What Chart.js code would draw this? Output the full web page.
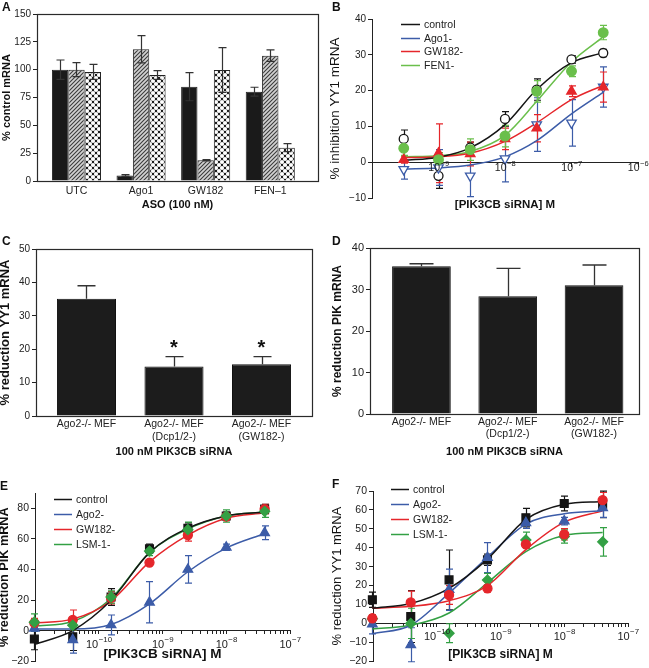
<!DOCTYPE html>
<html><head><meta charset="utf-8">
<script src="https://cdn.jsdelivr.net/npm/chart.js@4.4.1/dist/chart.umd.min.js"></script>
<style>
html,body{margin:0;padding:0;background:#fff}
body{width:649px;height:668px;position:relative;overflow:hidden}
canvas{position:absolute;display:block}
.letter{position:absolute;font:bold 12px "Liberation Sans",Arial,sans-serif;line-height:12px;color:#111}
</style></head><body>
<canvas id="cA" width="325" height="220" style="left:0;top:0"></canvas>
<canvas id="cB" width="324" height="220" style="left:325px;top:0"></canvas>
<canvas id="cC" width="325" height="240" style="left:0;top:220px"></canvas>
<canvas id="cD" width="324" height="240" style="left:325px;top:220px"></canvas>
<canvas id="cE" width="325" height="208" style="left:0;top:460px"></canvas>
<canvas id="cF" width="324" height="208" style="left:325px;top:460px"></canvas>
<div class="letter" style="left:2px;top:1px">A</div>
<div class="letter" style="left:332px;top:1px">B</div>
<div class="letter" style="left:2px;top:235px">C</div>
<div class="letter" style="left:332px;top:235px">D</div>
<div class="letter" style="left:0px;top:480px">E</div>
<div class="letter" style="left:332px;top:478px">F</div>
<script>
// ================= DATA =================
// Panel A
const aCategories = ['UTC', 'Ago1', 'GW182', 'FEN–1'];
const aSeriesNames = ['Ago1 mRNA', 'GW182 mRNA', 'FEN-1 mRNA'];
const aAgo1 = [100, 5, 84.7, 80.2];
const aAgo1Err = [8.7, 0.8, 12.6, 4];
const aGw182 = [100, 118.3, 18.6, 112.6];
const aGw182Err = [6.3, 12.2, 0.6, 5.1];
const aFen1 = [98, 95.2, 99.7, 29.9];
const aFen1Err = [6.8, 3.9, 20.1, 3.6];

// Panel B
const bConc = [3e-10, 1e-9, 3e-9, 1e-8, 3e-8, 1e-7, 3e-7];
const bNames = ['control', 'Ago1-', 'GW182-', 'FEN1-'];
const bControl = [6.5, -3.8, 4.1, 12.1, 20.3, 28.7, 30.5];
const bControlErr = [2.5, 3.5, 1.5, 2, 3, 1, 1];
const bAgo1 = [-2, -1.5, -3.8, 1, 10.5, 11, 21];
const bAgo1Err = [2.7, 5, 5.8, 6.5, 7.5, 6.5, 5.6];
const bGw182 = [0.7, 2.5, 2.3, 6.5, 9.5, 19.8, 21];
const bGw182Err = [1, 8.2, 3.3, 3, 3.8, 1.5, 4.2];
const bFen1 = [3.9, 0.7, 3.5, 7.3, 19.8, 25.4, 36.2];
const bFen1Err = [2, 2, 3, 3, 3, 1.5, 2];
const bFitControl = [0.5, 1.4, 4, 10.5, 20.3, 27.8, 30.6];
const bFitAgo1 = [-1.9, -1.6, -0.8, 1.5, 6, 13.5, 19.5];
const bFitGw182 = [1.3, 1.5, 2.5, 5.8, 11, 17.5, 21.5];
const bFitFen1 = [1.5, 1.8, 3, 7.5, 17, 28, 35];
const bXTicks = [1e-10, 1e-9, 1e-8, 1e-7, 1e-6];
const bXTickExponents = ['', '−9', '−8', '−7', '−6'];

// Panels C and D
const cdCategories = [['Ago2-/- MEF'], ['Ago2-/- MEF', '(Dcp1/2-)'], ['Ago2-/- MEF', '(GW182-)']];
const cValues = [35.1, 14.8, 15.5];
const cErr = [3.9, 3.0, 2.3];
const cMarks = ['', '*', '*'];
const dValues = [35.6, 28.4, 31];
const dErr = [0.6, 6.7, 4.9];

// Panels E and F
const efConc = [9.77e-12, 3.91e-11, 1.56e-10, 6.25e-10, 2.5e-9, 1e-8, 4e-8];
const efNames = ['control', 'Ago2-', 'GW182-', 'LSM-1-'];
const efXDecades = [1e-11, 1e-10, 1e-9, 1e-8, 1e-7];
const efXDecadeExponents = ['', '−10', '−9', '−8', '−7'];
const efMinorSteps = [2, 3, 4, 5, 6, 7, 8, 9];

const eControl = [-5.5, -4, 22, 53.5, 67, 75, 79.5];
const eControlErr = [7, 9, 5.5, 3, 3.5, 2.5, 3];
const eAgo2 = [1.5, -6, 3.7, 18.5, 40, 54.5, 64];
const eAgo2Err = [2, 8.7, 6.5, 13.5, 9, 2, 4.5];
const eGw182 = [5, 7, 21.5, 44.5, 62.5, 74.5, 79.5];
const eGw182Err = [3, 6.5, 4, 2, 4, 2, 3];
const eLsm1 = [5.5, 3.5, 22, 52, 66, 75, 78];
const eLsm1Err = [5.5, 3, 4, 3, 5, 4, 4];
const eFitControl = [-9, 0, 19.8, 51, 67, 75, 77.5];
const eFitAgo2 = [1, 1, 4, 17.5, 38.5, 54, 63.5];
const eFitGw182 = [5, 7.5, 19.5, 45, 62.5, 73.5, 77];
const eFitLsm1 = [3, 6, 21, 51, 66.5, 75, 77.5];

const fControl = [12.5, 3.6, 23, 33.6, 55.9, 63.4, 62.9];
const fControlErr = [4, 13.7, 15.8, 3, 4.9, 3.9, 7];
const fAgo2 = [-0.4, -11.3, 17.8, 34.8, 53.2, 54.1, 61.1];
const fAgo2Err = [5.1, 9, 10.9, 7.9, 3, 2, 5];
const fGw182 = [2.7, 11.1, 15, 18.5, 41.8, 47.1, 65.2];
const fGw182Err = [2, 6, 5, 2, 2, 3, 4];
const fLsm1 = [2.4, 0, -5.2, 22.9, 44.1, 45.9, 43.1];
const fLsm1Err = [2, 8, 5, 3.5, 4.2, 3.5, 7.5];
const fFitControl = [8, 10.5, 18.5, 34, 55, 63, 64.5];
const fFitAgo2 = [-5.5, -1, 16, 35, 52.5, 58, 59.5];
const fFitGw182 = [8, 9, 12, 20, 39, 53.5, 59.5];
const fFitLsm1 = [-3, -1, 5.5, 21.5, 38, 46.5, 48];

// ================= STYLE =================
const FAMILY = '"Liberation Sans", Arial, Helvetica, sans-serif';
Chart.defaults.font.family = FAMILY;
Chart.defaults.color = '#222';
Chart.defaults.animation = false;
Chart.defaults.responsive = false;
Chart.defaults.plugins.legend.display = false;
Chart.defaults.plugins.tooltip.enabled = false;

const colBlack = '#151515', colBlue = '#3c5ca8', colRed = '#e5262b', colGreenB = '#6abf4b', colGreenEF = '#33a044';
const F = (size, weight) => ({ size, weight: weight || 'normal', family: FAMILY });

function hatchPattern() {
  const c = document.createElement('canvas'); c.width = 4; c.height = 4;
  const g = c.getContext('2d');
  g.fillStyle = '#d2d2d2'; g.fillRect(0, 0, 4, 4);
  g.strokeStyle = '#3c3c3c'; g.lineWidth = 1.1;
  g.beginPath();
  g.moveTo(-1, 5); g.lineTo(5, -1);
  g.moveTo(-1, 1); g.lineTo(1, -1);
  g.moveTo(3, 5); g.lineTo(5, 3);
  g.stroke();
  return g.createPattern(c, 'repeat');
}
function checkerPattern() {
  const c = document.createElement('canvas'); c.width = 6; c.height = 6;
  const g = c.getContext('2d');
  g.fillStyle = '#1a1a1a'; g.fillRect(0, 0, 6, 6);
  g.fillStyle = '#fff';
  [[0,0],[6,0],[0,6],[6,6],[3,3]].forEach(([x, y]) => { g.beginPath(); g.arc(x, y, 2.1, 0, 2 * Math.PI); g.fill(); });
  return g.createPattern(c, 'repeat');
}

// ================= PLUGINS =================
function drawErrors(chart, o) {
  const ctx = chart.ctx, ys = chart.scales.y;
  chart.data.datasets.forEach((ds, i) => {
    if (!ds.errors) return;
    const meta = chart.getDatasetMeta(i);
    ctx.save();
    ctx.strokeStyle = o.color || ds.borderColor;
    ctx.lineWidth = o.lineWidth || 1.2;
    meta.data.forEach((el, j) => {
      const raw = ds.data[j]; const v = (typeof raw === 'object') ? raw.y : raw; const e = ds.errors[j];
      if (e == null) return;
      const x = Math.round(el.x) + 0.5;
      const yt = ys.getPixelForValue(v + e);
      const yb = ys.getPixelForValue(o.upperOnly ? v : v - e);
      const hw = o.cap / 2;
      ctx.beginPath();
      ctx.moveTo(x, yt); ctx.lineTo(x, yb);
      ctx.moveTo(x - hw, yt); ctx.lineTo(x + hw, yt);
      if (!o.upperOnly) { ctx.moveTo(x - hw, yb); ctx.lineTo(x + hw, yb); }
      ctx.stroke();
    });
    ctx.restore();
  });
}
const errPlugin = {
  id: 'errbars',
  beforeDatasetsDraw(chart, a, o) { if (!o.after) drawErrors(chart, o); },
  afterDatasetsDraw(chart, a, o) { if (o.after) drawErrors(chart, o); }
};
const framePlugin = {
  id: 'frame',
  afterDatasetsDraw(chart) {
    const { left, top, right, bottom } = chart.chartArea; const ctx = chart.ctx;
    ctx.save(); ctx.strokeStyle = '#2a2a2a'; ctx.lineWidth = 1.2;
    ctx.strokeRect(Math.round(left) + 0.5, Math.round(top) + 0.5, Math.round(right - left), Math.round(bottom - top));
    ctx.restore();
  }
};
const legendPlugin = {
  id: 'lineLegend',
  afterDraw(chart, a, o) {
    const ctx = chart.ctx; const items = chart.data.datasets.filter(d => d.isCurve);
    ctx.save(); ctx.font = o.size + 'px ' + FAMILY; ctx.textAlign = 'left'; ctx.textBaseline = 'middle';
    items.forEach((d, k) => {
      const y = Math.round(o.y + k * o.dy) + 0.5;
      ctx.strokeStyle = d.borderColor; ctx.lineWidth = 1.5;
      ctx.beginPath(); ctx.moveTo(o.x0, y); ctx.lineTo(o.x1, y); ctx.stroke();
      ctx.fillStyle = '#222'; ctx.fillText(d.label, o.tx, y + 0.5);
    });
    ctx.restore();
  }
};
const starPlugin = {
  id: 'stars',
  afterDatasetsDraw(chart) {
    const ctx = chart.ctx, ys = chart.scales.y;
    chart.data.datasets.forEach((ds, i) => {
      if (!ds.marks) return;
      const meta = chart.getDatasetMeta(i);
      ctx.save(); ctx.font = 'bold 20px ' + FAMILY; ctx.textAlign = 'center'; ctx.textBaseline = 'alphabetic'; ctx.fillStyle = '#111';
      meta.data.forEach((el, j) => {
        if (!ds.marks[j]) return;
        const yt = ys.getPixelForValue(ds.data[j] + ds.errors[j]);
        ctx.fillText(ds.marks[j], el.x, yt - 3);
      });
      ctx.restore();
    });
  }
};
// power-of-ten tick labels with a raised exponent, placed through the x scale
const supTickPlugin = {
  id: 'supTicks',
  afterDraw(chart, a, o) {
    const ctx = chart.ctx, xs = chart.scales.x, ys = chart.scales.y;
    const y0 = ys.getPixelForValue(0) + o.dy;
    const small = o.size * 0.72;
    ctx.save(); ctx.fillStyle = '#222'; ctx.textBaseline = 'middle'; ctx.textAlign = 'left';
    o.values.forEach((v, i) => {
      const exp = o.exps[i]; if (!exp) return;
      ctx.font = o.size + 'px ' + FAMILY; const wb = ctx.measureText('10').width;
      ctx.font = small + 'px ' + FAMILY; const we = ctx.measureText(exp).width;
      const x = xs.getPixelForValue(v) - (wb + we) / 2;
      ctx.font = o.size + 'px ' + FAMILY; ctx.fillText('10', x, y0);
      ctx.font = small + 'px ' + FAMILY; ctx.fillText(exp, x + wb + 0.5, y0 - o.size * 0.45);
    });
    ctx.restore();
  }
};

// ================= AXIS HELPERS =================
function yAxis(o) {
  return {
    min: o.min, max: o.max,
    ticks: { stepSize: o.step, font: F(o.tickSize || 10), padding: 2, color: '#222',
      callback: v => String(v).replace('-', '−') },
    grid: { display: true, drawOnChartArea: false, drawTicks: true, tickLength: 4, tickColor: '#222', tickWidth: 1 },
    border: { display: o.border, color: '#222', width: 1 },
    title: { display: true, text: o.title, font: F(o.titleSize, o.titleWeight), color: '#111', padding: { top: o.titlePad, bottom: 0 } },
    afterFit: s => { s.width = o.width; s.paddingTop = 0; s.paddingBottom = 0; }
  };
}
function logX(o) {
  return {
    type: 'logarithmic', min: o.min, max: o.max, position: { y: 0 },
    afterBuildTicks: s => { s.ticks = o.ticks.map(v => ({ value: v })); },
    ticks: { autoSkip: false, maxRotation: 0, minRotation: 0, font: F(10), padding: 0, callback: () => '' },
    grid: { display: true, drawOnChartArea: false, drawTicks: true, tickLength: o.tickLen, tickColor: '#222' },
    border: { display: true, color: '#222', width: 1 },
    title: { display: true, text: '[PIK3CB siRNA] M', font: F(o.titleSize, 'bold'), color: '#111', padding: 0 },
    afterFit: s => { s.height = o.height; s.paddingLeft = 0; s.paddingRight = 0; }
  };
}
function catX(o) {
  return {
    offset: true,
    grid: { display: false, drawTicks: false }, border: { display: false },
    ticks: { font: F(o.tickSize), padding: o.tickPad, color: '#222', autoSkip: false, maxRotation: 0 },
    title: { display: true, text: o.title, font: F(11, 'bold'), color: '#111', padding: { top: 0, bottom: o.titlePad } },
    afterBuildTicks: s => { if (o.start != null) { s._startValue = o.start; s._valueRange = o.range; } },
    afterFit: s => { s.height = o.height; s.paddingLeft = 0; s.paddingRight = 0; }
  };
}
function pointDs(label, xs, ys, errs, color, style, radius, fill, order, rotation) {
  return { label, data: xs.map((x, i) => ({ x, y: ys[i] })), errors: errs, showLine: false,
    pointStyle: style, pointRadius: radius, pointRotation: rotation || 0,
    pointBackgroundColor: fill, pointBorderColor: color, pointBorderWidth: 1.3,
    borderColor: color, backgroundColor: fill, order, clip: false };
}
function curveDs(label, xs, ys, color, order) {
  return { label, data: xs.map((x, i) => ({ x, y: ys[i] })), showLine: true, borderColor: color, borderWidth: 1.5,
    pointRadius: 0, cubicInterpolationMode: 'monotone', order, clip: false, isCurve: true, fill: false };
}
function efTicks() {
  const t = [];
  efXDecades.forEach((d, i) => { t.push(d); if (i < efXDecades.length - 1) efMinorSteps.forEach(m => t.push(d * m)); });
  return t;
}

// ================= PANEL A =================
new Chart(document.getElementById('cA'), {
  type: 'bar',
  data: { labels: aCategories, datasets: [
    { label: aSeriesNames[0], data: aAgo1, errors: aAgo1Err, backgroundColor: '#1a1a1a' },
    { label: aSeriesNames[1], data: aGw182, errors: aGw182Err, backgroundColor: hatchPattern() },
    { label: aSeriesNames[2], data: aFen1, errors: aFen1Err, backgroundColor: checkerPattern() }
  ].map(d => Object.assign(d, { borderColor: '#222', borderWidth: 1, barPercentage: 1, categoryPercentage: 0.76 })) },
  options: {
    layout: { padding: { left: 0, top: 14, right: 7, bottom: 0 } },
    plugins: { errbars: { after: true, cap: 8, color: '#333', lineWidth: 1.2 } },
    scales: {
      x: { grid: { display: false, drawTicks: false }, border: { display: false },
        ticks: { font: F(10.5), padding: 4, color: '#222' },
        title: { display: true, text: 'ASO (100 nM)', font: F(11, 'bold'), color: '#111', padding: { top: 0, bottom: 8 } },
        afterBuildTicks: s => { s._startValue = -0.611; s._valueRange = 4.35; },
        afterFit: s => { s.height = 39; s.paddingLeft = 0; s.paddingRight = 0; } },
      y: yAxis({ min: 0, max: 150, step: 25, width: 37, border: false, title: '% control mRNA', titleSize: 11, titleWeight: 'bold', titlePad: 0 })
    }
  },
  plugins: [errPlugin, framePlugin]
});

// ================= PANEL B =================
new Chart(document.getElementById('cB'), {
  type: 'scatter',
  data: { datasets: [
    pointDs(bNames[0], bConc, bControl, bControlErr, colBlack, 'circle', 4.5, '#fff', 4),
    pointDs(bNames[1], bConc, bAgo1, bAgo1Err, colBlue, 'triangle', 5.5, '#fff', 3, 180),
    pointDs(bNames[2], bConc, bGw182, bGw182Err, colRed, 'triangle', 5.5, colRed, 2),
    pointDs(bNames[3], bConc, bFen1, bFen1Err, colGreenB, 'circle', 4.8, colGreenB, 1),
    curveDs(bNames[0], bConc, bFitControl, colBlack, 10),
    curveDs(bNames[1], bConc, bFitAgo1, colBlue, 11),
    curveDs(bNames[2], bConc, bFitGw182, colRed, 12),
    curveDs(bNames[3], bConc, bFitFen1, colGreenB, 13)
  ] },
  options: {
    layout: { padding: { left: 0, top: 19, right: 11, bottom: 22 } },
    plugins: { errbars: { after: false, cap: 7, lineWidth: 1.2 },
      lineLegend: { x0: 76, x1: 95, tx: 99, y: 24, dy: 13.5, size: 10.5 },
      supTicks: { values: bXTicks, exps: bXTickExponents, dy: 6, size: 10.5 } },
    scales: {
      x: logX({ min: 1e-10, max: 1e-6, ticks: bXTicks, tickLen: 4, titleSize: 11.5, height: 50 }),
      y: yAxis({ min: -10, max: 40, step: 10, width: 47, border: true, title: '% inhibition YY1 mRNA', titleSize: 13.5, titleWeight: 'normal', titlePad: 2 })
    }
  },
  plugins: [errPlugin, legendPlugin, supTickPlugin]
});

// ================= PANEL C =================
new Chart(document.getElementById('cC'), {
  type: 'bar',
  data: { labels: cdCategories, datasets: [
    { label: '% reduction YY1 mRNA', data: cValues, errors: cErr, marks: cMarks, backgroundColor: '#1c1c1c', borderColor: '#111', borderWidth: 1, barPercentage: 0.675, categoryPercentage: 1 }
  ] },
  options: {
    layout: { padding: { left: 0, top: 29, right: 13, bottom: 0 } },
    plugins: { errbars: { after: true, upperOnly: true, cap: 18, color: '#333', lineWidth: 1.3 } },
    scales: {
      x: catX({ tickSize: 10.5, tickPad: 2, title: '100 nM PIK3CB siRNA', titlePad: 1.4, height: 44, start: -0.577, range: 3.154 }),
      y: yAxis({ min: 0, max: 50, step: 10, width: 36, border: false, title: '% reduction YY1 mRNA', titleSize: 13, titleWeight: 'bold', titlePad: -2.8 })
    }
  },
  plugins: [errPlugin, framePlugin, starPlugin]
});

// ================= PANEL D =================
new Chart(document.getElementById('cD'), {
  type: 'bar',
  data: { labels: cdCategories, datasets: [
    { label: '% reduction PIK mRNA', data: dValues, errors: dErr, backgroundColor: '#1c1c1c', borderColor: '#111', borderWidth: 1, barPercentage: 0.68, categoryPercentage: 1 }
  ] },
  options: {
    layout: { padding: { left: 0, top: 28, right: 10, bottom: 0 } },
    plugins: { errbars: { after: true, upperOnly: true, cap: 24, color: '#333', lineWidth: 1.3 } },
    scales: {
      x: catX({ tickSize: 10.5, tickPad: 1.5, title: '100 nM PIK3CB siRNA', titlePad: 1.4, height: 46, start: -0.596, range: 3.117 }),
      y: yAxis({ min: 0, max: 40, step: 10, width: 45, border: false, title: '% reduction PIK mRNA', titleSize: 12, titleWeight: 'bold', titlePad: 5.5, tickSize: 11 })
    }
  },
  plugins: [errPlugin, framePlugin]
});

// ================= PANEL E =================
new Chart(document.getElementById('cE'), {
  type: 'scatter',
  data: { datasets: [
    pointDs(efNames[0], efConc, eControl, eControlErr, colBlack, 'rect', 5.5, colBlack, 4),
    pointDs(efNames[1], efConc, eAgo2, eAgo2Err, colBlue, 'triangle', 5.5, colBlue, 3),
    pointDs(efNames[2], efConc, eGw182, eGw182Err, colRed, 'circle', 4.5, colRed, 2),
    pointDs(efNames[3], efConc, eLsm1, eLsm1Err, colGreenEF, 'rectRot', 5, colGreenEF, 1),
    curveDs(efNames[0], efConc, eFitControl, colBlack, 10),
    curveDs(efNames[1], efConc, eFitAgo2, colBlue, 11),
    curveDs(efNames[2], efConc, eFitGw182, colRed, 12),
    curveDs(efNames[3], efConc, eFitLsm1, colGreenEF, 13)
  ] },
  options: {
    layout: { padding: { left: 0, top: 33, right: 35, bottom: 6 } },
    plugins: { errbars: { after: false, cap: 7, lineWidth: 1.2 },
      lineLegend: { x0: 54, x1: 72, tx: 76, y: 39, dy: 15, size: 10.5 },
      supTicks: { values: efXDecades, exps: efXDecadeExponents, dy: 14, size: 11 } },
    scales: {
      x: logX({ min: 1e-11, max: 1e-7, ticks: efTicks(), tickLen: 3, titleSize: 13.5, height: 32 }),
      y: yAxis({ min: -20, max: 90, step: 10, width: 35, border: true, title: '% reduction PIK mRNA', titleSize: 12.7, titleWeight: 'bold', titlePad: -3.6, tickSize: 10.5 })
    }
  },
  plugins: [errPlugin, legendPlugin, supTickPlugin]
});

// ================= PANEL F =================
new Chart(document.getElementById('cF'), {
  type: 'scatter',
  data: { datasets: [
    pointDs(efNames[0], efConc, fControl, fControlErr, colBlack, 'rect', 5.5, colBlack, 4),
    pointDs(efNames[1], efConc, fAgo2, fAgo2Err, colBlue, 'triangle', 5.5, colBlue, 2),
    pointDs(efNames[2], efConc, fGw182, fGw182Err, colRed, 'circle', 4.5, colRed, 1),
    pointDs(efNames[3], efConc, fLsm1, fLsm1Err, colGreenEF, 'rectRot', 5, colGreenEF, 3),
    curveDs(efNames[0], efConc, fFitControl, colBlack, 10),
    curveDs(efNames[1], efConc, fFitAgo2, colBlue, 11),
    curveDs(efNames[2], efConc, fFitGw182, colRed, 12),
    curveDs(efNames[3], efConc, fFitLsm1, colGreenEF, 13)
  ] },
  options: {
    layout: { padding: { left: 0, top: 31, right: 21, bottom: 6 } },
    plugins: { errbars: { after: false, cap: 7, lineWidth: 1.2 },
      lineLegend: { x0: 66, x1: 84, tx: 88, y: 29, dy: 15, size: 10.5 },
      supTicks: { values: efXDecades, exps: efXDecadeExponents, dy: 13.5, size: 11 } },
    scales: {
      x: logX({ min: 1e-11, max: 1e-7, ticks: efTicks(), tickLen: 3, titleSize: 12, height: 39 }),
      y: yAxis({ min: -20, max: 70, step: 10, width: 48, border: true, title: '% reduction YY1 mRNA', titleSize: 13, titleWeight: 'normal', titlePad: 4.5, tickSize: 10.5 })
    }
  },
  plugins: [errPlugin, legendPlugin, supTickPlugin]
});
</script>
</body></html>
